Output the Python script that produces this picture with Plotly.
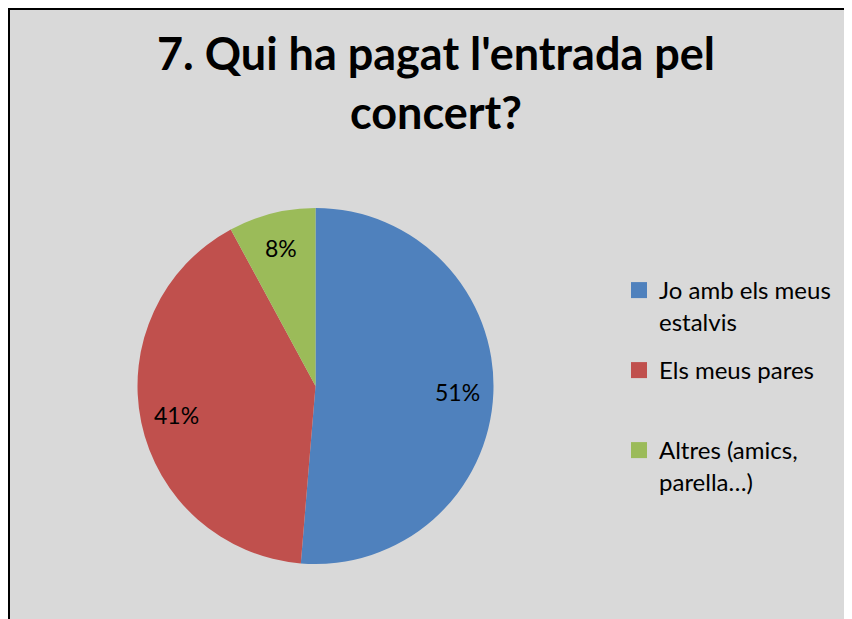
import math
import plotly.graph_objects as go

W, H = 852, 619

categories = ["Jo amb els meus<br>estalvis", "Els meus pares", "Altres (amics,<br>parella…)"]
values = [39, 31, 6]
colors = ["#4F81BD", "#C0504D", "#9BBB59"]
title_text = "7. Qui ha pagat l'entrada pel<br>concert?"

FONT = "Lato"

def px(x):
    return x / W

def py(y):
    return 1 - y / H

# pie geometry in figure pixels
cx, cy, r = 307.5, 378, 178

fig = go.Figure()
fig.add_trace(
    go.Pie(
        labels=categories,
        values=values,
        sort=False,
        direction="clockwise",
        rotation=0,
        marker=dict(colors=colors, line=dict(width=0)),
        textinfo="none",
        domain=dict(x=[px(cx - r), px(cx + r)], y=[py(cy + r), py(cy - r)]),
        hoverinfo="label+percent",
        showlegend=False,
    )
)

# percent labels placed along each slice's bisector (computed from the values)
total = sum(values)
annotations = []
start = 0.0
for v in values:
    frac = v / total
    mid = (start + frac / 2) * 2 * math.pi
    start += frac
    rr = 0.8 * r
    lx = cx + rr * math.sin(mid)
    ly = cy - rr * math.cos(mid)
    annotations.append(dict(
        x=px(lx), y=py(ly), xref="paper", yref="paper",
        text=f"{round(frac * 100)}%", showarrow=False,
        font=dict(family=FONT, size=23, color="black"),
        xanchor="center", yanchor="middle",
    ))

# legend entries, one legend per item so the spacing matches
legend_tops = [260, 340, 420]
legend_names = ["legend", "legend2", "legend3"]
layout_legends = {}
for name, color, lname, top in zip(categories, colors, legend_names, legend_tops):
    fig.add_trace(go.Scatter(
        x=[None], y=[None], mode="markers", name=name,
        marker=dict(symbol="square", size=16, color=color),
        legend=lname, showlegend=True, hoverinfo="skip",
    ))
    layout_legends[lname] = dict(
        x=px(611), y=py(top), xanchor="left", yanchor="top", valign="top",
        font=dict(family=FONT, size=24, color="black"),
        bgcolor="rgba(0,0,0,0)", itemclick=False, itemdoubleclick=False,
    )

fig.update_layout(
    width=W,
    height=H,
    margin=dict(l=0, r=0, t=0, b=0),
    paper_bgcolor="#D9D9D9",
    plot_bgcolor="#D9D9D9",
    font=dict(family=FONT, color="black"),
    xaxis=dict(visible=False),
    yaxis=dict(visible=False),
    title=dict(
        text="<b>" + title_text + "</b>",
        x=px(428),
        xanchor="center",
        y=py(62),
        yanchor="top",
        font=dict(family=FONT, size=45, color="black"),
    ),
    annotations=annotations,
    shapes=[
        dict(type="line", xref="paper", yref="paper", x0=px(1), x1=px(1), y0=0, y1=1,
             line=dict(color="black", width=2)),
        dict(type="line", xref="paper", yref="paper", x0=0, x1=1, y0=py(1), y1=py(1),
             line=dict(color="black", width=2)),
    ],
    **layout_legends,
)

fig.write_html("out.html")
